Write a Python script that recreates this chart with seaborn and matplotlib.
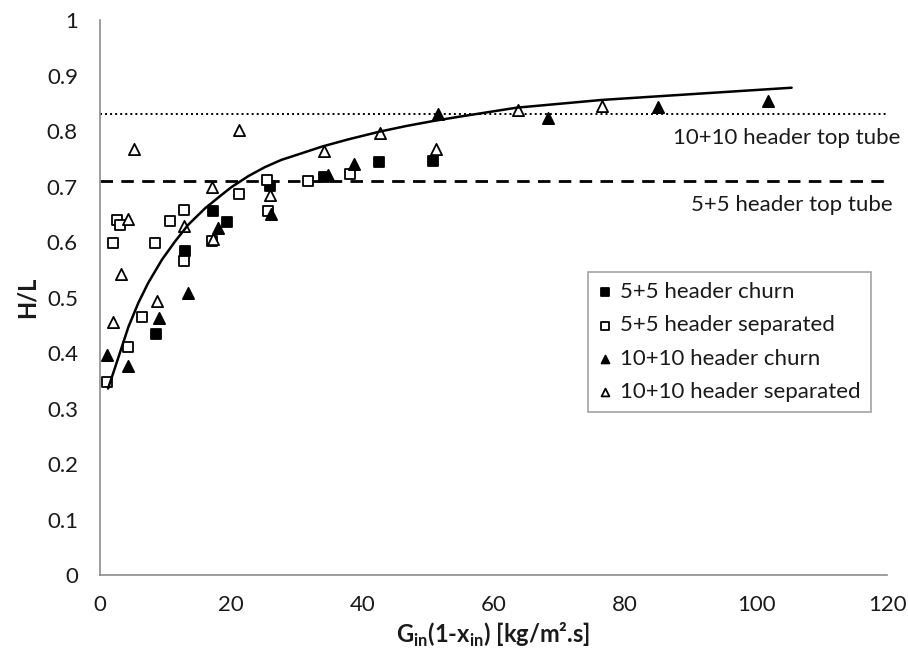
import matplotlib
matplotlib.use("Agg")
import matplotlib.pyplot as plt
import numpy as np
import pandas as pd
import seaborn as sns

# 5+5 header churn (filled squares)
churn55_x = [8.6, 13.0, 17.3, 19.4, 25.9, 34.2, 42.6, 50.8]
churn55_y = [0.435, 0.583, 0.655, 0.636, 0.701, 0.717, 0.744, 0.746]

# 5+5 header separated (open squares)
sep55_x = [1.1, 4.3, 6.5, 2.1, 2.6, 3.1, 8.5, 10.7, 12.8, 12.9, 17.1, 21.3, 25.5, 25.6, 31.8, 38.1]
sep55_y = [0.348, 0.411, 0.465, 0.599, 0.640, 0.630, 0.599, 0.638, 0.658, 0.566, 0.602, 0.686,
           0.712, 0.656, 0.710, 0.722]

# 10+10 header churn (filled triangles)
churn1010_x = [1.1, 4.4, 9.0, 13.5, 18.1, 26.1, 34.8, 38.7, 51.6, 68.3, 85.1, 101.8]
churn1010_y = [0.397, 0.377, 0.463, 0.508, 0.625, 0.650, 0.721, 0.741, 0.830, 0.824, 0.844, 0.854]

# 10+10 header separated (open triangles)
sep1010_x = [2.1, 3.2, 4.4, 5.3, 8.7, 12.9, 17.1, 17.3, 21.3, 25.9, 34.2, 42.7, 51.3, 63.8, 76.5]
sep1010_y = [0.456, 0.543, 0.641, 0.768, 0.494, 0.628, 0.700, 0.605, 0.801, 0.684, 0.764, 0.797,
             0.767, 0.838, 0.845]

# fitted trend curve
curve_x = [1.3, 2.4, 3.4, 4.4, 5.9, 7.4, 9.5, 11.5, 13.5, 16.1, 18.6, 20.1, 22.7, 25.2, 27.7,
           30.3, 33.9, 37.9, 42.7, 46.7, 50.8, 54.9, 63.5, 76.5, 90.9, 105.4]
curve_y = [0.336, 0.375, 0.411, 0.447, 0.490, 0.526, 0.568, 0.601, 0.631, 0.661, 0.685, 0.699,
           0.719, 0.735, 0.748, 0.758, 0.772, 0.785, 0.799, 0.809, 0.818, 0.826, 0.842, 0.856,
           0.867, 0.878]

top_tube_1010 = 0.83
top_tube_55 = 0.71

sns.set_style("white")
plt.rcParams["font.family"] = ["Lato", "DejaVu Sans"]
plt.rcParams["mathtext.fontset"] = "custom"
plt.rcParams["mathtext.bf"] = "Lato:bold"
plt.rcParams["mathtext.rm"] = "Lato"

fig = plt.figure(figsize=(9.08, 6.52), dpi=100)
ax = fig.add_axes([0.1096, 0.1181, 0.8678, 0.8512])

series = [
    (churn55_x, churn55_y, "s", "black", "5+5 header churn"),
    (sep55_x, sep55_y, "s", "white", "5+5 header separated"),
    (churn1010_x, churn1010_y, "^", "black", "10+10 header churn"),
    (sep1010_x, sep1010_y, "^", "white", "10+10 header separated"),
]
for xs, ys, mk, fc, lab in series:
    df = pd.DataFrame({"x": xs, "y": ys})
    sns.scatterplot(data=df, x="x", y="y", marker=mk, color=fc, edgecolor="black",
                    linewidth=1.3, s=60 if mk == "s" else 65, ax=ax, label=lab, zorder=3)

sns.lineplot(x=curve_x, y=curve_y, color="black", linewidth=1.8, sort=False,
             estimator=None, ax=ax, zorder=4)

ax.axhline(top_tube_1010, color="black", linestyle=(0, (1, 1.6)), linewidth=1.4, zorder=2)
ax.axhline(top_tube_55, color="black", linestyle=(0, (4.5, 3)), linewidth=2, zorder=2)

ax.text(121.9, 0.787, "10+10 header top tube", ha="right", va="center",
        fontsize=16, color="#1a1a1a", clip_on=False)
ax.text(120.8, 0.667, "5+5 header top tube", ha="right", va="center",
        fontsize=16, color="#1a1a1a", clip_on=False)

ax.set_xlim(0, 120)
ax.set_ylim(0, 1)
ax.set_xticks(np.arange(0, 121, 20))
ax.set_yticks(np.arange(0, 1.01, 0.1))
ax.set_yticklabels(["0"] + [f"{v:.1f}" for v in np.arange(0.1, 0.95, 0.1)] + ["1"])

for side in ["top", "right"]:
    ax.spines[side].set_visible(False)
for side in ["left", "bottom"]:
    ax.spines[side].set_color("#8c8c8c")
    ax.spines[side].set_linewidth(1.2)
ax.tick_params(axis="both", which="both", direction="out", length=6.5, width=1.2,
               color="#8c8c8c", labelsize=16, labelcolor="#1a1a1a", pad=9)
ax.tick_params(axis="x", pad=8)

ax.set_ylabel("H/L", fontsize=17, fontweight="bold", color="#1a1a1a", labelpad=6)
ax.set_xlabel(r"G$_{\mathbf{in}}$(1-x$_{\mathbf{in}}$) [kg/m².s]", fontsize=17,
              fontweight="bold", color="#1a1a1a", labelpad=4)

leg = ax.legend(loc="upper left", bbox_to_anchor=(588 / 908, 1 - 272 / 652),
                bbox_transform=fig.transFigure, borderaxespad=0, frameon=True,
                fancybox=False, edgecolor="#8c8c8c", fontsize=16, markerscale=0.7,
                handlelength=0.6, handletextpad=0.4, labelspacing=0.6, borderpad=0.45)
leg.get_frame().set_linewidth(1.2)
for t in leg.get_texts():
    t.set_color("#1a1a1a")

fig.savefig("out.png", dpi=100)
